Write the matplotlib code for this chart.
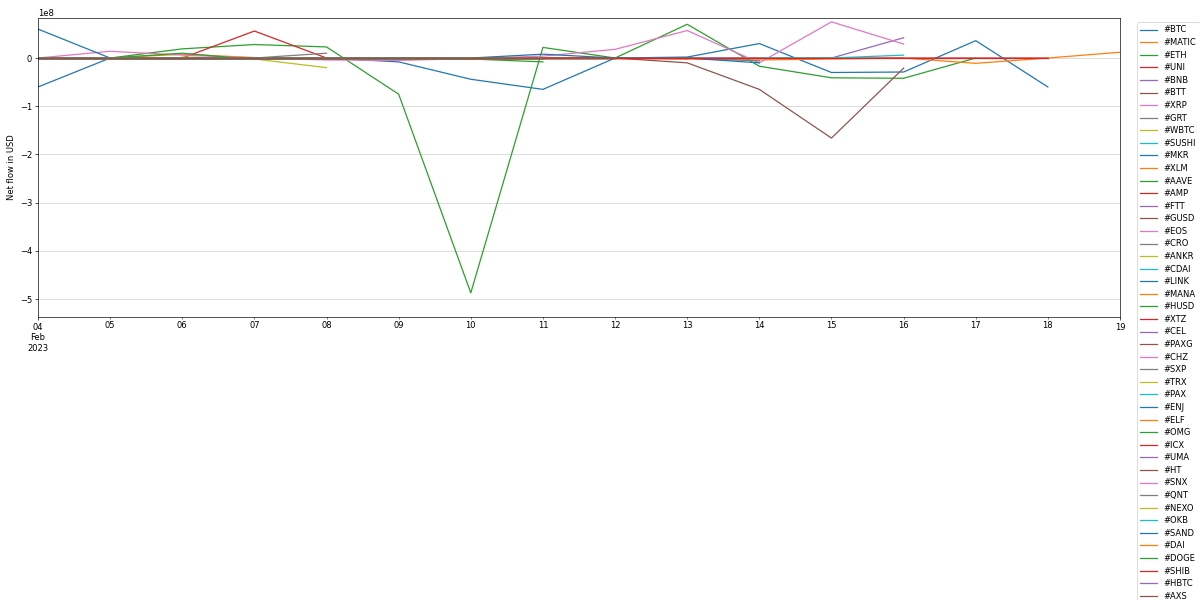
import numpy as np
import pandas as pd
import matplotlib
matplotlib.use('Agg')
import matplotlib.pyplot as plt

N = np.nan

# dates 2023-02-04 .. 2023-02-19
dates = ['2023-02-04', '2023-02-05', '2023-02-06', '2023-02-07', '2023-02-08', '2023-02-09',
         '2023-02-10', '2023-02-11', '2023-02-12', '2023-02-13', '2023-02-14', '2023-02-15',
         '2023-02-16', '2023-02-17', '2023-02-18', '2023-02-19']

# net flow, units of 1e8 USD
btc   = [-0.60, 0, 0, 0, 0, -0.08, -0.44, -0.65, 0, 0.02, 0.30, -0.30, -0.29, 0.36, -0.60, N]
matic = [0, 0, 0.08, 0.01, -0.02, 0, -0.03, 0, 0, -0.02, -0.04, -0.02, 0, N, N, N]
eth   = [0, 0, 0.19, 0.28, 0.23, -0.75, -4.87, 0.22, 0, 0.70, -0.17, -0.41, -0.42, 0, N, N]
uni   = [0, 0, 0, 0.56, 0, 0, 0, 0, 0, 0, 0, 0, 0, 0, 0, N]
bnb   = [N, N, N, N, N, N, N, N, 0, 0, 0, 0, 0.42, N, N, N]
btt   = [N, N, N, N, N, N, N, 0, 0, -0.10, -0.65, -1.66, -0.21, N, N, N]
xrp   = [0, 0.14, 0.06, 0, -0.04, -0.05, -0.01, 0.04, 0.18, 0.57, -0.10, 0.75, 0.29, N, N, N]
grt   = [N, N, 0, 0, 0.10, N, N, N, N, N, N, N, N, N, N, N]
wbtc  = [N, N, 0.02, -0.02, -0.20, N, N, N, N, N, N, N, N, N, N, N]
sushi = [N, N, N, N, N, N, N, N, N, N, 0, 0, 0.06, N, N, N]
mkr   = [0.60, 0, 0, 0, N, N, N, N, N, N, N, N, N, N, N, N]
xlm   = [0, 0, 0, 0, 0, 0, 0, 0, 0, 0, 0, N, N, N, N, N]
aave  = [N, 0, 0.10, -0.03, 0, 0, -0.02, -0.08, N, N, N, N, N, N, N, N]
amp   = [0, 0, 0, 0, 0, 0, 0, 0, 0, 0, N, N, N, N, N, N]
ftt   = [0, 0, 0, 0, 0, 0, 0, 0, N, N, N, N, N, N, N, N]
gusd  = [0, 0, 0, 0, 0, 0, 0, 0, 0, N, N, N, N, N, N, N]
eos   = [0, 0, 0, 0, 0, 0, 0, N, N, N, N, N, N, N, N, N]
cro   = [N, N, N, N, N, N, N, N, 0, 0, -0.06, N, N, N, N, N]
ankr  = [0, 0, 0, 0, 0, 0, N, N, N, N, N, N, N, N, N, N]
cdai  = [0, 0, 0, 0, 0, 0, 0, 0, N, N, N, N, N, N, N, N]
link  = [N, N, N, N, N, N, 0, 0.08, 0, 0, -0.10, N, N, N, N, N]
mana  = [0, 0, 0, 0, 0, 0, 0, 0, 0, N, N, N, N, N, N, N]
husd  = [0, 0, 0, 0, 0, 0, 0, 0, N, N, N, N, N, N, N, N]
xtz   = [0, 0, 0, 0, 0, 0, 0, 0, 0, 0, N, N, N, N, N, N]
cel   = [0, 0, 0, 0, 0, 0, 0, N, N, N, N, N, N, N, N, N]
paxg  = [0, 0, 0, 0, 0, 0, 0, 0, N, N, N, N, N, N, N, N]
chz   = [0, 0, 0, 0, 0, 0, N, N, N, N, N, N, N, N, N, N]
sxp   = [0, 0, 0, 0, 0, 0, 0, N, N, N, N, N, N, N, N, N]
trx   = [0, 0, 0, 0, 0, 0, 0, 0, N, N, N, N, N, N, N, N]
pax   = [0, 0, 0, 0, 0, 0, N, N, N, N, N, N, N, N, N, N]
enj   = [0, 0, 0, 0, 0, 0, 0, N, N, N, N, N, N, N, N, N]
elf   = [0, 0, 0, 0, 0, 0, 0, 0, N, N, N, N, N, N, N, N]
omg   = [0, 0, 0, 0, 0, 0, 0, N, N, N, N, N, N, N, N, N]
icx   = [0, 0, 0, 0, 0, 0, 0, 0, 0, N, N, N, N, N, N, N]
uma   = [0, 0, 0, 0, 0, 0, N, N, N, N, N, N, N, N, N, N]
ht    = [0, 0, 0, 0, 0, 0, 0, 0, N, N, N, N, N, N, N, N]
snx   = [0, 0, 0, 0, 0, 0, 0, N, N, N, N, N, N, N, N, N]
qnt   = [0, 0, 0, 0, 0, 0, N, N, N, N, N, N, N, N, N, N]
nexo  = [0, 0, 0, 0, 0, 0, 0, N, N, N, N, N, N, N, N, N]
okb   = [0, 0, 0, 0, 0, 0, 0, 0, N, N, N, N, N, N, N, N]
sand  = [0, 0, 0, 0, 0, 0, 0, N, N, N, N, N, N, N, N, N]
dai   = [N, N, N, N, N, N, N, N, N, N, N, N, 0, -0.11, 0, 0.12]
doge  = [0, 0, 0, 0, 0, 0, 0, 0, N, N, N, N, N, N, N, N]
shib  = [0, 0, 0, 0, 0, 0, 0, 0, 0, 0, 0, 0, 0, 0, 0, N]
hbtc  = [N, N, N, N, N, N, N, N, N, N, N, N, N, N, N, N]
axs   = [0, 0, 0, 0, 0, 0, 0, 0, 0, N, N, N, N, N, N, N]

tickers = ['#BTC', '#MATIC', '#ETH', '#UNI', '#BNB', '#BTT', '#XRP', '#GRT', '#WBTC', '#SUSHI',
           '#MKR', '#XLM', '#AAVE', '#AMP', '#FTT', '#GUSD', '#EOS', '#CRO', '#ANKR', '#CDAI',
           '#LINK', '#MANA', '#HUSD', '#XTZ', '#CEL', '#PAXG', '#CHZ', '#SXP', '#TRX', '#PAX',
           '#ENJ', '#ELF', '#OMG', '#ICX', '#UMA', '#HT', '#SNX', '#QNT', '#NEXO', '#OKB',
           '#SAND', '#DAI', '#DOGE', '#SHIB', '#HBTC', '#AXS']
series = [btc, matic, eth, uni, bnb, btt, xrp, grt, wbtc, sushi,
          mkr, xlm, aave, amp, ftt, gusd, eos, cro, ankr, cdai,
          link, mana, husd, xtz, cel, paxg, chz, sxp, trx, pax,
          enj, elf, omg, icx, uma, ht, snx, qnt, nexo, okb,
          sand, dai, doge, shib, hbtc, axs]

idx = pd.DatetimeIndex(pd.to_datetime(dates), freq='D')
df = pd.DataFrame({t: np.array(s, dtype=float) * 1e8 for t, s in zip(tickers, series)}, index=idx)

fig = plt.figure(figsize=(20, 10), dpi=60)
ax = fig.add_axes([38 / 1200, 1 - 317 / 600, 1082 / 1200, 299 / 600])
df.plot(ax=ax, legend=False)

ax.set_ylim(-5.37e8, 0.83e8)
ax.grid(axis='y', color='#cccccc')
ax.set_xlabel('')
ax.set_ylabel('Net flow in USD')
ax.legend(loc='upper left', bbox_to_anchor=(1.012, 1), labelspacing=0.43)

fig.savefig('out.png', dpi=60)
